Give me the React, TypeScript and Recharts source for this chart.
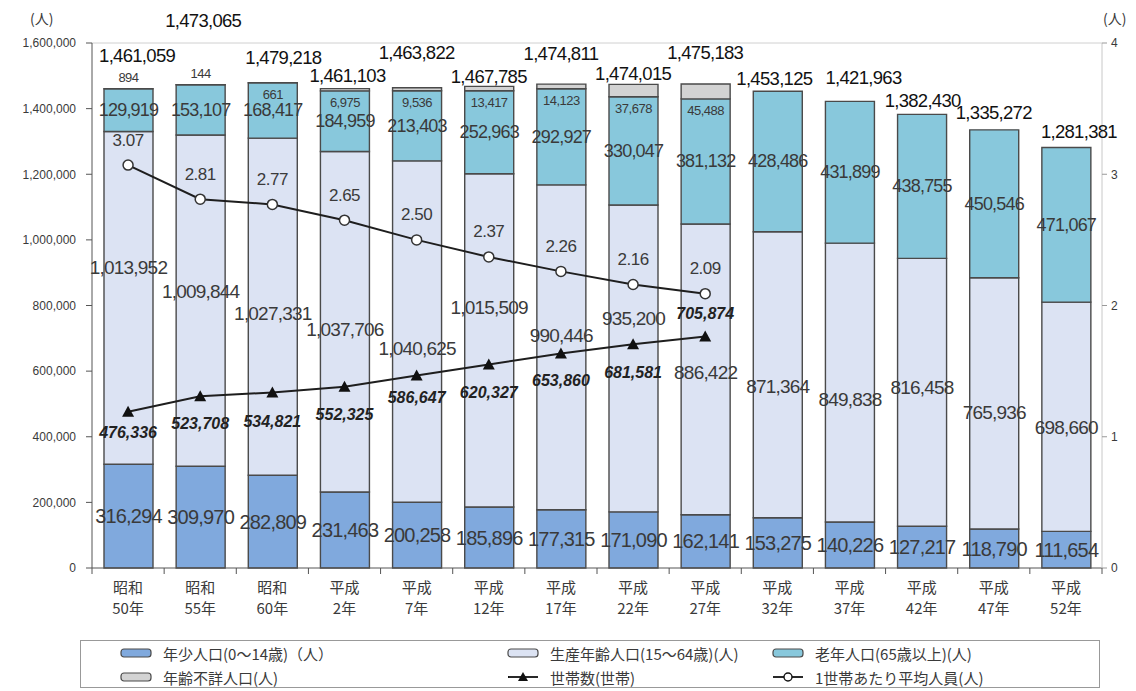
import React from "react";
import { ComposedChart, Bar, Line, XAxis, YAxis, LabelList, ReferenceLine, Legend } from "recharts";

// 年次
const eras = ["昭和", "昭和", "昭和", "平成", "平成", "平成", "平成", "平成", "平成", "平成", "平成", "平成", "平成", "平成"];
const years = ["50年", "55年", "60年", "2年", "7年", "12年", "17年", "22年", "27年", "32年", "37年", "42年", "47年", "52年"];

// 人口 (人)
const young = [316294, 309970, 282809, 231463, 200258, 185896, 177315, 171090, 162141, 153275, 140226, 127217, 118790, 111654];
const working = [1013952, 1009844, 1027331, 1037706, 1040625, 1015509, 990446, 935200, 886422, 871364, 849838, 816458, 765936, 698660];
const elderly = [129919, 153107, 168417, 184959, 213403, 252963, 292927, 330047, 381132, 428486, 431899, 438755, 450546, 471067];
const unknown = [894, 144, 661, 6975, 9536, 13417, 14123, 37678, 45488, null, null, null, null, null];
const totals = [1461059, 1473065, 1479218, 1461103, 1463822, 1467785, 1474811, 1474015, 1475183, 1453125, 1421963, 1382430, 1335272, 1281381];

// 世帯
const households = [476336, 523708, 534821, 552325, 586647, 620327, 653860, 681581, 705874, null, null, null, null, null];
const avgMembers = [3.07, 2.81, 2.77, 2.65, 2.5, 2.37, 2.26, 2.16, 2.09, null, null, null, null, null];

const leftTicks = [0, 200000, 400000, 600000, 800000, 1000000, 1200000, 1400000, 1600000];
const rightTicks = [0, 1, 2, 3, 4];

const data = eras.map((era, i) => ({
    name: era + years[i],
    era,
    year: years[i],
    young: young[i],
    working: working[i],
    elderly: elderly[i],
    unknown: unknown[i],
    total: totals[i],
    households: households[i],
    avg: avgMembers[i],
}));

const COLORS = {
    young: "#80a9dd",
    working: "#dce3f3",
    elderly: "#88c8dc",
    unknown: "#d3d3d3",
    outline: "#4a4a4a",
    line: "#1e1e1e",
    text: "#3a3a3a",
};

const NUM_FONT = "'Liberation Sans', Arial, sans-serif";
const JP_FONT = "'Noto Sans CJK JP', sans-serif";

// label nudges (px), as placed in the original figure
const totalLift = [33, 64, 25, 13, 35, 10, 31, 11, 31, 13, 24, 14, 17, 16];
const totalShiftX = [9, 3, 11, 3, 0, 0, 0, 0, 0, -3, 14, 1, 0, 13];
const workingShift = [-30, -9, 7, 8, 17, -33, -12, -40, 3, 12, 17, -5, 9, 11];
const householdShift = [21, 27, 29, 28, 22, 28, 27, 28, -23];
const unknownAbove = new Set([0, 1]);

const fmt = (v: number) => v.toLocaleString("en-US");

const segmentLabel = (size: number, shift?: number[]) => (p: any) => {
    if (p.value == null) return null;
    const cx = p.x + p.width / 2;
    const cy = p.y + p.height / 2 + (shift ? shift[p.index] ?? 0 : 0);
    return (
        <text x={cx} y={cy} textAnchor="middle" dominantBaseline="central" fontSize={size}
            fontFamily={NUM_FONT} fill={COLORS.text} letterSpacing={-0.8}>
            {fmt(p.value)}
        </text>
    );
};

const unknownLabel = (p: any) => {
    if (p.value == null) return null;
    const cx = p.x + p.width / 2;
    const cy = unknownAbove.has(p.index) ? p.y - 11 : p.y + p.height + 12;
    return (
        <text x={cx} y={cy} textAnchor="middle" dominantBaseline="central" fontSize={13}
            fontFamily={NUM_FONT} fill={COLORS.text} letterSpacing={-0.5}>
            {fmt(p.value)}
        </text>
    );
};

const totalLabel = (p: any) => {
    if (p.value == null) return null;
    return (
        <text x={p.x + totalShiftX[p.index]} y={p.y - totalLift[p.index]} textAnchor="middle" dominantBaseline="central"
            fontSize={18.5} fontFamily={NUM_FONT} fill="#111" letterSpacing={-0.7}>
            {fmt(p.value)}
        </text>
    );
};

const householdLabel = (p: any) => {
    if (p.value == null) return null;
    return (
        <text x={p.x} y={p.y + (householdShift[p.index] ?? 24)} textAnchor="middle" dominantBaseline="central"
            fontSize={16} fontWeight="bold" fontStyle="italic" fontFamily={NUM_FONT} fill="#222">
            {fmt(p.value)}
        </text>
    );
};

const avgLabel = (p: any) => {
    if (p.value == null) return null;
    return (
        <text x={p.x} y={p.y - 25} textAnchor="middle" dominantBaseline="central"
            fontSize={17} fontFamily={NUM_FONT} fill={COLORS.text} letterSpacing={-0.5}>
            {p.value.toFixed(2)}
        </text>
    );
};

const TriangleDot = (p: any) => {
    if (p.value == null || p.cy == null) return <g key={p.key} />;
    const { cx, cy } = p;
    return <path key={p.key} d={`M${cx},${cy - 6} L${cx + 6},${cy + 5} L${cx - 6},${cy + 5} Z`} fill="#111" />;
};

const CircleDot = (p: any) => {
    if (p.value == null || p.cy == null) return <g key={p.key} />;
    return <circle key={p.key} cx={p.cx} cy={p.cy} r={5} fill="#fff" stroke="#333" strokeWidth={1.5} />;
};

const BAND = 1010 / 14;

const CategoryTick = (p: any) => {
    const { x, y, index, payload } = p;
    const d = data[index] ?? data.find((r) => r.name === payload.value);
    return (
        <g>
            <line x1={x - BAND / 2} y1={y} x2={x - BAND / 2} y2={y + 6} stroke="#555" />
            {index === data.length - 1 && <line x1={x + BAND / 2} y1={y} x2={x + BAND / 2} y2={y + 6} stroke="#555" />}
            <text x={x} y={y + 25} textAnchor="middle" fontSize={15} fontFamily={JP_FONT} fill={COLORS.text}>
                <tspan x={x}>{d?.era}</tspan>
                <tspan x={x} dy={21}>{d?.year}</tspan>
            </text>
        </g>
    );
};

const legendItems = [
    { label: "年少人口(0～14歳)（人）", kind: "bar", color: COLORS.young, left: 38, top: 12 },
    { label: "生産年齢人口(15～64歳)(人)", kind: "bar", color: COLORS.working, left: 425, top: 12 },
    { label: "老年人口(65歳以上)(人)", kind: "bar", color: COLORS.elderly, left: 690, top: 12 },
    { label: "年齢不詳人口(人)", kind: "bar", color: COLORS.unknown, left: 38, top: 36 },
    { label: "世帯数(世帯)", kind: "tri", color: "#111", left: 425, top: 36 },
    { label: "1世帯あたり平均人員(人)", kind: "circle", color: "#111", left: 690, top: 36 },
];

const LegendBox = () => (
    <div style={{ position: "relative", width: 1020, height: 48, border: "1px solid #999", boxSizing: "border-box", background: "#fff" }}>
        {legendItems.map((it) => (
            <div key={it.label} style={{ position: "absolute", left: it.left, top: it.top - 11, height: 22, display: "flex", alignItems: "center", gap: 10 }}>
                <svg width={34} height={14}>
                    {it.kind === "bar" && <rect x={2} y={3} width={30} height={8} rx={3} fill={it.color} stroke={COLORS.outline} strokeWidth={1.2} />}
                    {it.kind === "tri" && (
                        <g>
                            <line x1={2} y1={7} x2={32} y2={7} stroke="#111" strokeWidth={1.8} />
                            <path d="M17,2 L22,11 L12,11 Z" fill="#111" />
                        </g>
                    )}
                    {it.kind === "circle" && (
                        <g>
                            <line x1={2} y1={7} x2={32} y2={7} stroke="#111" strokeWidth={1.8} />
                            <circle cx={17} cy={7} r={4} fill="#fff" stroke="#111" strokeWidth={1.4} />
                        </g>
                    )}
                </svg>
                <span style={{ fontFamily: JP_FONT, fontSize: 15, color: COLORS.text, whiteSpace: "nowrap" }}>{it.label}</span>
            </div>
        ))}
    </div>
);

export default function App() {
    return (
        <div style={{ position: "relative", width: 1120, height: 691, marginTop: -8, background: "#fff" }}>
            <span style={{ position: "absolute", left: 22, top: 8, fontFamily: JP_FONT, fontSize: 14, color: COLORS.text }}>(人)</span>
            <span style={{ position: "absolute", left: 1095, top: 8, fontFamily: JP_FONT, fontSize: 14, color: COLORS.text }}>(人)</span>
            <ComposedChart width={1120} height={691} data={data} margin={{ top: 43, right: 0, left: 0, bottom: 63 }}>
                <XAxis dataKey="name" height={60} interval={0} tickLine={false} tickSize={0} tickMargin={0}
                    axisLine={{ stroke: "#555" }} tick={<CategoryTick />} />
                <YAxis yAxisId="left" width={84} domain={[0, 1600000]} ticks={leftTicks} tickFormatter={fmt}
                    tick={{ fontSize: 12, fill: COLORS.text, fontFamily: NUM_FONT }} tickSize={6} tickMargin={10}
                    axisLine={{ stroke: "#555" }} tickLine={{ stroke: "#555" }} />
                <YAxis yAxisId="right" orientation="right" width={26} domain={[0, 4]} ticks={rightTicks}
                    tick={{ fontSize: 12, fill: COLORS.text, fontFamily: NUM_FONT }} tickSize={5} tickMargin={4}
                    axisLine={{ stroke: "#c8c8c8" }} tickLine={{ stroke: "#999" }} />
                <ReferenceLine yAxisId="left" y={1600000} stroke="#d0d0d0" />
                <Legend layout="horizontal" verticalAlign="middle" align="center" content={<LegendBox />}
                    wrapperStyle={{ left: 72, top: 640, width: 1020, height: 48 }} />

                <Bar yAxisId="left" dataKey="young" stackId="pop" barSize={49} fill={COLORS.young}
                    stroke={COLORS.outline} strokeWidth={1.4} isAnimationActive={false}>
                    <LabelList dataKey="young" content={segmentLabel(20)} />
                </Bar>
                <Bar yAxisId="left" dataKey="working" stackId="pop" barSize={49} fill={COLORS.working}
                    stroke={COLORS.outline} strokeWidth={1.4} isAnimationActive={false}>
                    <LabelList dataKey="working" content={segmentLabel(19, workingShift)} />
                </Bar>
                <Bar yAxisId="left" dataKey="elderly" stackId="pop" barSize={49} fill={COLORS.elderly}
                    stroke={COLORS.outline} strokeWidth={1.4} isAnimationActive={false}>
                    <LabelList dataKey="elderly" content={segmentLabel(18)} />
                </Bar>
                <Bar yAxisId="left" dataKey="unknown" stackId="pop" barSize={49} fill={COLORS.unknown}
                    stroke={COLORS.outline} strokeWidth={1.4} isAnimationActive={false}>
                    <LabelList dataKey="unknown" content={unknownLabel} />
                </Bar>

                <Line yAxisId="left" dataKey="total" stroke="none" dot={false} activeDot={false}
                    legendType="none" isAnimationActive={false}>
                    <LabelList dataKey="total" content={totalLabel} />
                </Line>
                <Line yAxisId="left" dataKey="households" stroke={COLORS.line} strokeWidth={2}
                    dot={<TriangleDot />} activeDot={false} isAnimationActive={false}>
                    <LabelList dataKey="households" content={householdLabel} />
                </Line>
                <Line yAxisId="right" dataKey="avg" stroke={COLORS.line} strokeWidth={2}
                    dot={<CircleDot />} activeDot={false} isAnimationActive={false}>
                    <LabelList dataKey="avg" content={avgLabel} />
                </Line>
            </ComposedChart>
        </div>
    );
}
